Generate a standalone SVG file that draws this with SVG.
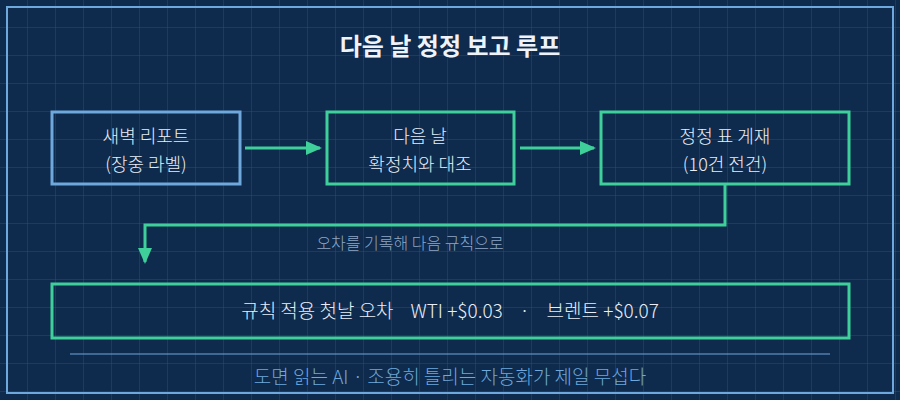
<svg xmlns="http://www.w3.org/2000/svg" width="900" height="400" viewBox="0 0 900 400">
<defs>
<pattern id="grid" width="28" height="28" patternUnits="userSpaceOnUse"><path d="M28 0V28M0 28H28" fill="none" stroke="#2a4b76" stroke-width="1"/></pattern>
<marker id="ah2" markerWidth="16" markerHeight="16" refX="14" refY="8" orient="auto" markerUnits="userSpaceOnUse" viewBox="0 0 16 16"><path d="M0 1L16 8L0 15Z" fill="#3ecf9a"/></marker>
</defs>
<style>
text{font-family:"Noto Sans CJK KR","Noto Sans",sans-serif;text-anchor:middle;white-space:pre}
.n{fill:none;stroke-width:3}
.g{stroke:#3ecf9a}.b{stroke:#6fa8dc}
.t{fill:#e8eef7;font-size:18px;font-weight:300}
.c{fill:none;stroke:#3ecf9a;stroke-width:3}
</style>
<rect width="900" height="400" fill="#0e2a4c"/>
<rect width="900" height="400" fill="url(#grid)"/>
<rect x="7" y="7" width="886" height="386" fill="none" stroke="#6fa8dc" stroke-width="2"/>
<text x="450" y="55" style="font-size:24px;font-weight:bold;fill:#eef3fa">다음 날 정정 보고 루프</text>
<g id="n1"><rect class="n b" x="52" y="112" width="188" height="72"/><text class="t" x="146" y="143">새벽 리포트</text><text class="t" x="146" y="171">(장중 라벨)</text></g>
<g id="n2"><rect class="n g" x="327" y="112" width="187" height="72"/><text class="t" x="420" y="143">다음 날</text><text class="t" x="420" y="171">확정치와 대조</text></g>
<g id="n3"><rect class="n g" x="601" y="112" width="248" height="72"/><text class="t" x="725" y="143">정정 표 게재</text><text class="t" x="725" y="171">(10건 전건)</text></g>
<g id="n4"><rect class="n g" x="52" y="284" width="797" height="54"/><text class="t" x="450" y="318" style="font-size:19px">규칙 적용 첫날 오차    WTI +$0.03    ·    브렌트 +$0.07</text></g>
<g id="connectors">
<path class="c" d="M245 148H320" marker-end="url(#ah2)"/>
<path class="c" d="M520 148H594" marker-end="url(#ah2)"/>
<path class="c" d="M725 184V225H145V262" marker-end="url(#ah2)"/>
<text x="410" y="249" style="fill:#8fa6c4;font-size:16px;font-weight:300">오차를 기록해 다음 규칙으로</text>
</g>
<line x1="70" y1="354" x2="830" y2="354" stroke="#6fa8dc" stroke-width="1"/>
<text x="450" y="384" style="fill:#6fa8dc;font-size:19px;font-weight:300">도면 읽는 AI · 조용히 틀리는 자동화가 제일 무섭다</text>
</svg>
